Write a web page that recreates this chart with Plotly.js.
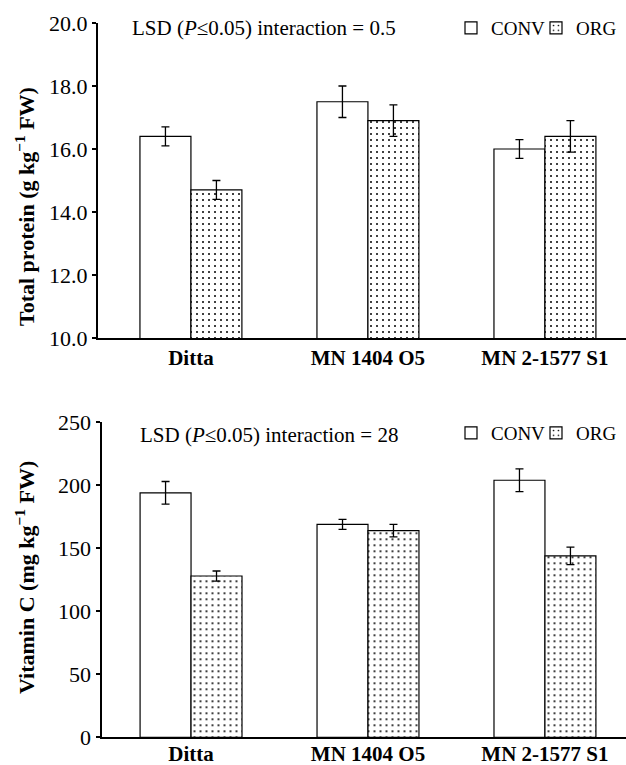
<!DOCTYPE html>
<html>
<head>
<meta charset="utf-8">
<script src="https://cdn.plot.ly/plotly-3.0.1.min.js"></script>
<style>html,body{margin:0;padding:0;background:#fff;}#chart{width:626px;height:765px;}</style>
</head>
<body>
<div id="chart"></div>
<script>
const categories = ['Ditta', 'MN 1404 O5', 'MN 2-1577 S1'];
const proteinConv = [16.4, 17.5, 16.0];
const proteinConvErr = [0.3, 0.5, 0.3];
const proteinOrg = [14.7, 16.9, 16.4];
const proteinOrgErr = [0.3, 0.5, 0.5];
const vitcConv = [194, 169, 204];
const vitcConvErr = [9, 4, 9];
const vitcOrg = [128, 164, 144];
const vitcOrgErr = [4, 5, 7];
const seriesNames = ['CONV', 'ORG'];

const W = 626, H = 765;
const FONT = "'Liberation Serif', 'Times New Roman', serif";
const px = v => v / W;
const py = v => 1 - v / H;

function bar(y, err, name, org, xa, ya, leg) {
  return {
    type: 'bar', x: categories, y: y, name: name,
    xaxis: xa, yaxis: ya, legend: leg, showlegend: true,
    marker: {
      color: '#ffffff',
      line: {color: '#000000', width: 1.2},
      pattern: org ? {shape: '.', size: 6, solidity: 0.09, fgcolor: '#000000', bgcolor: '#ffffff', fillmode: 'replace'} : {shape: ''}
    },
    error_y: {type: 'data', array: err, visible: true, color: '#000000', thickness: 1.3, width: 4}
  };
}

const data = [
  bar(proteinConv, proteinConvErr, seriesNames[0], false, 'x', 'y', 'legend'),
  bar(proteinOrg, proteinOrgErr, seriesNames[1], true, 'x', 'y', 'legend'),
  bar(vitcConv, vitcConvErr, seriesNames[0], false, 'x2', 'y2', 'legend2'),
  bar(vitcOrg, vitcOrgErr, seriesNames[1], true, 'x2', 'y2', 'legend2')
];

const xaxisBase = {
  type: 'category', showline: true, linewidth: 2, linecolor: '#000',
  ticks: '', showgrid: false, zeroline: false, automargin: false,
  tickfont: {family: FONT, size: 21, color: '#000', weight: 'bold'},
  fixedrange: true
};
const yaxisBase = {
  showline: true, linewidth: 2, linecolor: '#000',
  ticks: 'outside', ticklen: 4, tickwidth: 2, tickcolor: '#000',
  showgrid: false, zeroline: false, automargin: false,
  tickfont: {family: FONT, size: 22, color: '#000'},
  fixedrange: true
};

const legendBase = {
  orientation: 'h', xref: 'paper', yref: 'paper', xanchor: 'left', yanchor: 'middle',
  bgcolor: 'rgba(0,0,0,0)', borderwidth: 0, entrywidth: 40, entrywidthmode: 'pixels',
  font: {family: FONT, size: 19, color: '#000'}
};

const layout = {
  width: W, height: H,
  margin: {l: 0, r: 0, t: 0, b: 0},
  paper_bgcolor: '#fff', plot_bgcolor: '#fff',
  barmode: 'group', bargap: 0.424, bargroupgap: 0,
  font: {family: FONT, color: '#000'},
  xaxis: Object.assign({}, xaxisBase, {domain: [px(98), 1], range: [-0.525, 2.458], anchor: 'y'}),
  yaxis: Object.assign({}, yaxisBase, {domain: [py(338), py(23)], range: [10, 20], dtick: 2, tickformat: '.1f', anchor: 'x'}),
  xaxis2: Object.assign({}, xaxisBase, {domain: [px(101.5), 1], range: [-0.506, 2.458], anchor: 'y2', ticklabelstandoff: -4}),
  yaxis2: Object.assign({}, yaxisBase, {domain: [py(737.3), py(422.3)], range: [0, 250], dtick: 50, anchor: 'x2'}),
  legend: Object.assign({}, legendBase, {x: px(451), y: py(28)}),
  legend2: Object.assign({}, legendBase, {x: px(451), y: py(433)}),
  annotations: [
    {xref: 'paper', yref: 'paper', x: px(130), y: py(28), xanchor: 'left', yanchor: 'middle', showarrow: false,
     text: 'LSD (<i>P</i>≤0.05) interaction = 0.5', font: {family: FONT, size: 21, color: '#000'}},
    {xref: 'paper', yref: 'paper', x: px(138), y: py(435), xanchor: 'left', yanchor: 'middle', showarrow: false,
     text: 'LSD (<i>P</i>≤0.05) interaction = 28', font: {family: FONT, size: 21, color: '#000'}},
    {xref: 'paper', yref: 'paper', x: px(25), y: py(207), xanchor: 'center', yanchor: 'middle', showarrow: false, textangle: -90,
     text: '<b>Total protein (g kg<sup>−1</sup> FW)</b>', font: {family: FONT, size: 22, color: '#000'}},
    {xref: 'paper', yref: 'paper', x: px(25), y: py(578), xanchor: 'center', yanchor: 'middle', showarrow: false, textangle: -90,
     text: '<b>Vitamin C (mg kg<sup>−1</sup> FW)</b>', font: {family: FONT, size: 22, color: '#000'}}
  ]
};

Plotly.newPlot('chart', data, layout, {staticPlot: true, displayModeBar: false});
</script>
</body>
</html>
